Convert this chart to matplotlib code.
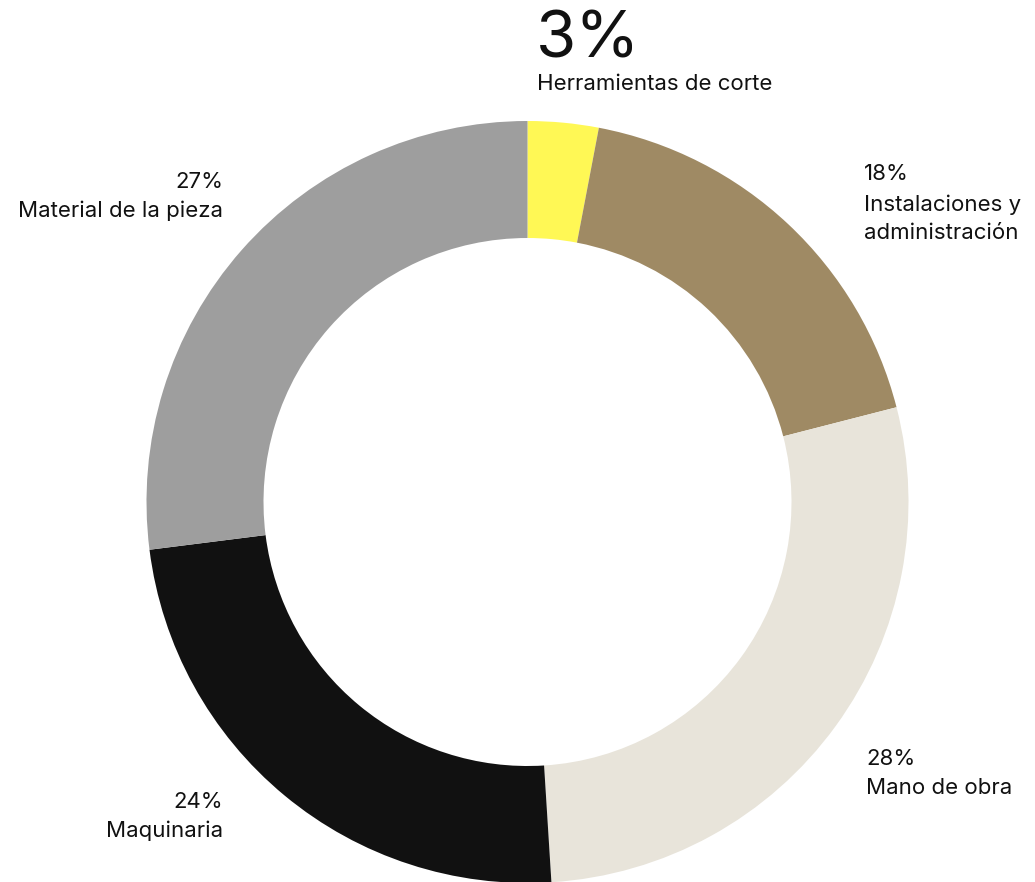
import matplotlib
matplotlib.use("Agg")
import matplotlib.pyplot as plt

plt.rcParams['font.family'] = ['Inter', 'DejaVu Sans']

categories = ["Herramientas de corte", "Instalaciones y\nadministración", "Mano de obra", "Maquinaria", "Material de la pieza"]
values = [3, 18, 28, 24, 27]
colors = ["#FFF855", "#9F8A64", "#E8E4DA", "#111111", "#9E9E9E"]

W, H = 1035, 882
fig = plt.figure(figsize=(W / 100, H / 100), dpi=100)
ax = fig.add_axes([0, 0, 1, 1])

cx, cy = 527.5, H - 502
R = 381
ax.pie(values, colors=colors, startangle=90, counterclock=False,
       center=(cx, cy), radius=R, frame=True,
       wedgeprops=dict(width=R - 264, linewidth=0))
ax.set_xlim(0, W)
ax.set_ylim(0, H)
ax.set_aspect('equal')
ax.axis('off')

def Y(py):
    return H - py

fs = 16
tc = '#111111'
ax.text(536, Y(57), f"{values[0]}%", fontsize=47, ha='left', va='baseline', color=tc)
ax.text(537, Y(90), categories[0], fontsize=fs, ha='left', va='baseline', color=tc)
ax.text(864, Y(180), f"{values[1]}%", fontsize=fs, ha='left', va='baseline', color=tc)
for i, line in enumerate(categories[1].split("\n")):
    ax.text(864, Y(211 + 28 * i), line, fontsize=fs, ha='left', va='baseline', color=tc)
ax.text(866, Y(765), f"{values[2]}%", fontsize=fs, ha='left', va='baseline', color=tc)
ax.text(866, Y(794), categories[2], fontsize=fs, ha='left', va='baseline', color=tc)
ax.text(223, Y(808), f"{values[3]}%", fontsize=fs, ha='right', va='baseline', color=tc)
ax.text(223, Y(837), categories[3], fontsize=fs, ha='right', va='baseline', color=tc)
ax.text(223, Y(188), f"{values[4]}%", fontsize=fs, ha='right', va='baseline', color=tc)
ax.text(223, Y(217), categories[4], fontsize=fs, ha='right', va='baseline', color=tc)

fig.savefig("out.png", dpi=100, facecolor='white')
